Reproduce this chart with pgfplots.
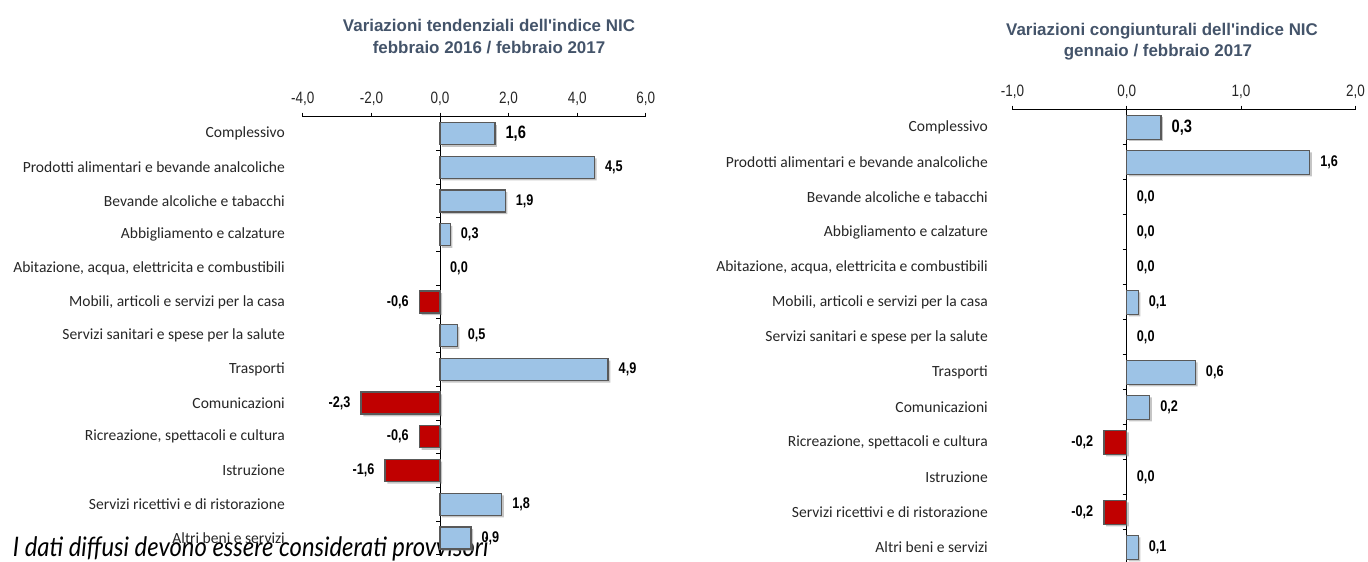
\documentclass[border=0pt]{standalone}
\usepackage{pgfplots}
\pgfplotsset{compat=1.18}
\usepackage{pgfplotstable}
\usepackage{fontspec}
\setmainfont{Carlito}
\newfontfamily\arialf{Liberation Sans}
\newfontfamily\narrowf{Liberation Sans}[FakeStretch=0.82]
\newfontfamily\footf{Lato}

\definecolor{titlecol}{HTML}{44546A}
\definecolor{barblue}{HTML}{9DC3E6}
\definecolor{barred}{HTML}{C00000}
\definecolor{bordergray}{HTML}{595959}

% ---- left chart: tendenziali ----
\pgfplotstableread{
i v l
0 1.6 1,6
}\tComL
\pgfplotstableread{
i v l
1 4.5 4,5
2 1.9 1,9
3 0.3 0,3
6 0.5 0,5
7 4.9 4,9
11 1.8 1,8
12 0.9 0,9
}\tPosL
\pgfplotstableread{
i v l
5 -0.6 -0,6
8 -2.3 -2,3
9 -0.6 -0,6
10 -1.6 -1,6
}\tNegL
\pgfplotstableread{
i v l
4 0.0 0,0
}\tZeroL

% ---- right chart: congiunturali ----
\pgfplotstableread{
i v l
0 0.3 0,3
}\tComR
\pgfplotstableread{
i v l
1 1.6 1,6
5 0.1 0,1
7 0.6 0,6
8 0.2 0,2
12 0.1 0,1
}\tPosR
\pgfplotstableread{
i v l
9 -0.2 -0,2
11 -0.2 -0,2
}\tNegR
\pgfplotstableread{
i v l
2 0.0 0,0
3 0.0 0,0
4 0.0 0,0
6 0.0 0,0
10 0.0 0,0
}\tZeroR

\pgfplotsset{
  chartbase/.style={
    scale only axis, xbar, bar shift=0pt,
    y dir=reverse, ymin=-0.5, ymax=12.5,
    axis x line*=top, axis y line*=middle,
    xtick align=outside, ytick align=outside,
    major tick length=4bp,
    ytick={-0.5,0.5,...,12.5}, yticklabels={},
    xticklabel style={font=\narrowf\fontsize{16.5}{16.5}\selectfont, text=black!85, yshift=4bp},
    axis line style={black, line width=0.8bp},
    tick style={black, line width=0.8bp},
    clip=false,
  },
  shadowplot/.style={fill=black!45, draw=none, opacity=0.5, xshift=2.2bp, yshift=-2.2bp, forget plot},
  blueplot/.style={fill=barblue, draw=bordergray, line width=1.3bp},
  redplot/.style={fill=barred, draw=bordergray, line width=1.3bp},
  nolabplot/.style={draw=none, fill=none},
  poslab/.style={nodes near coords={\pgfplotspointmeta}, point meta=explicit symbolic,
    every node near coord/.append style={font=\narrowf\bfseries\fontsize{#1}{#1}\selectfont, text=black, inner sep=0pt, anchor=west, xshift=10bp}},
  neglab/.style={nodes near coords={\pgfplotspointmeta}, point meta=explicit symbolic,
    every node near coord/.append style={font=\narrowf\bfseries\fontsize{#1}{#1}\selectfont, text=black, inner sep=0pt, anchor=east, xshift=-10bp}},
}
\tikzset{catlab/.style={anchor=east, font=\fontsize{15.6}{15.6}\selectfont, text=black!85, inner sep=0pt}}

\newcommand\cats[2]{%
  \node[catlab, xshift=#2] at (axis cs:#1,0) {Complessivo};
  \node[catlab, xshift=#2] at (axis cs:#1,1) {Prodotti alimentari e bevande analcoliche};
  \node[catlab, xshift=#2] at (axis cs:#1,2) {Bevande alcoliche e tabacchi};
  \node[catlab, xshift=#2] at (axis cs:#1,3) {Abbigliamento e calzature};
  \node[catlab, xshift=#2] at (axis cs:#1,4) {Abitazione, acqua, elettricita e combustibili};
  \node[catlab, xshift=#2] at (axis cs:#1,5) {Mobili, articoli e servizi per la casa};
  \node[catlab, xshift=#2] at (axis cs:#1,6) {Servizi sanitari e spese per la salute};
  \node[catlab, xshift=#2] at (axis cs:#1,7) {Trasporti};
  \node[catlab, xshift=#2] at (axis cs:#1,8) {Comunicazioni};
  \node[catlab, xshift=#2] at (axis cs:#1,9) {Ricreazione, spettacoli e cultura};
  \node[catlab, xshift=#2] at (axis cs:#1,10) {Istruzione};
  \node[catlab, xshift=#2] at (axis cs:#1,11) {Servizi ricettivi e di ristorazione};
  \node[catlab, xshift=#2] at (axis cs:#1,12) {Altri beni e servizi};
}

\begin{document}
\begin{tikzpicture}
\path[use as bounding box] (0,0) rectangle (1368bp,-562bp);

% footer (behind the charts)
\node[anchor=base west, inner sep=0pt, font=\footf\itshape\fontsize{27}{27}\selectfont, text=black]
  at (12.7bp,-556.7bp) {\scalebox{0.885}[1]{I dati diffusi devono essere considerati provvisori}};

% titles
\node[anchor=base, inner sep=0pt, font=\arialf\bfseries\fontsize{17}{17}\selectfont, text=titlecol] at (489bp,-31bp) {Variazioni tendenziali dell'indice NIC};
\node[anchor=base, inner sep=0pt, font=\arialf\bfseries\fontsize{17}{17}\selectfont, text=titlecol] at (489bp,-53.5bp) {febbraio 2016 / febbraio 2017};
\node[anchor=base, inner sep=0pt, font=\arialf\bfseries\fontsize{17}{17}\selectfont, text=titlecol] at (1162bp,-35bp) {Variazioni congiunturali dell'indice NIC};
\node[anchor=base, inner sep=0pt, font=\arialf\bfseries\fontsize{17}{17}\selectfont, text=titlecol] at (1158bp,-56bp) {gennaio / febbraio 2017};

% ---------- left axis ----------
\begin{axis}[chartbase,
  at={(302.8bp,-116.7bp)}, anchor=north west,
  width=343bp, height=438bp,
  xmin=-4, xmax=6,
  xtick={-4,-2,0,2,4,6},
  xticklabels={{-4,0},{-2,0},{0,0},{2,0},{4,0},{6,0}},
  bar width=22bp,
]
\addplot[shadowplot] table[x=v,y=i] {\tComL};
\addplot[shadowplot] table[x=v,y=i] {\tPosL};
\addplot[shadowplot] table[x=v,y=i] {\tNegL};
\addplot[blueplot, poslab=18] table[x=v,y=i,meta=l] {\tComL};
\addplot[blueplot, poslab=15.5] table[x=v,y=i,meta=l] {\tPosL};
\addplot[redplot, neglab=15.5] table[x=v,y=i,meta=l] {\tNegL};
\addplot[nolabplot, poslab=15.5] table[x=v,y=i,meta=l] {\tZeroL};
\cats{-4}{-17.8bp}
\end{axis}

% ---------- right axis ----------
\begin{axis}[chartbase,
  at={(1012.4bp,-109.7bp)}, anchor=north west,
  width=343bp, height=455bp,
  xmin=-1, xmax=2,
  xtick={-1,0,1,2},
  xticklabels={{-1,0},{0,0},{1,0},{2,0}},
  bar width=24bp,
]
\addplot[shadowplot] table[x=v,y=i] {\tComR};
\addplot[shadowplot] table[x=v,y=i] {\tPosR};
\addplot[shadowplot] table[x=v,y=i] {\tNegR};
\addplot[blueplot, poslab=18] table[x=v,y=i,meta=l] {\tComR};
\addplot[blueplot, poslab=15.5] table[x=v,y=i,meta=l] {\tPosR};
\addplot[redplot, neglab=15.5] table[x=v,y=i,meta=l] {\tNegR};
\addplot[nolabplot, poslab=15.5] table[x=v,y=i,meta=l] {\tZeroR};
\cats{-1}{-24.4bp}
\end{axis}
\end{tikzpicture}
\end{document}
